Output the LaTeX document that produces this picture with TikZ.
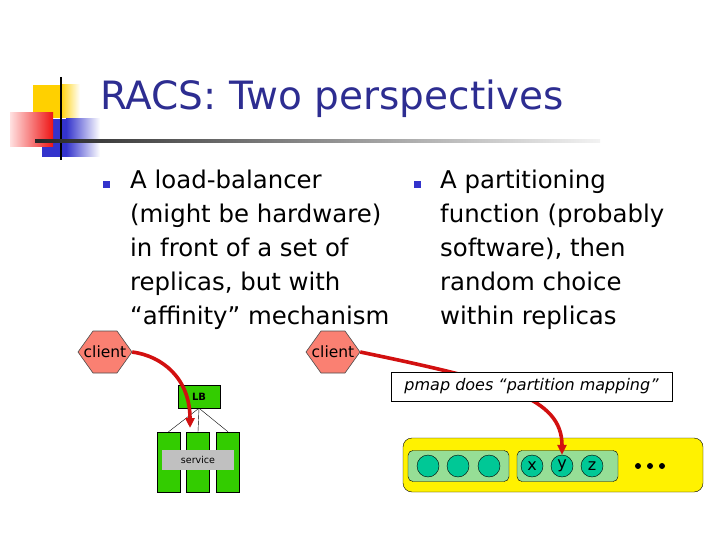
\documentclass[tikz,border=0pt]{standalone}
\usepackage{fontspec}
\setmainfont{DejaVu Sans}
\usepackage{xcolor}
\usepackage{tikz}
\usetikzlibrary{arrows.meta,positioning,calc}
\definecolor{titleblue}{RGB}{45,45,145}
\definecolor{bullblue}{RGB}{51,51,204}
\definecolor{logoyel}{RGB}{255,208,0}
\definecolor{logored}{RGB}{238,20,20}
\definecolor{salmon}{RGB}{250,128,114}
\definecolor{lbgreen}{RGB}{51,204,0}
\definecolor{arrred}{RGB}{210,16,16}
\definecolor{grpgreen}{RGB}{150,222,150}
\definecolor{teal}{RGB}{0,200,150}
\definecolor{svcgray}{RGB}{192,192,192}

\begin{document}
\begin{tikzpicture}[x=1pt,y=-1pt,
  body/.style={anchor=north west, align=left, inner sep=0pt, font=\fontsize{24.4}{34}\selectfont},
  hexa/.style={fill=salmon, draw=black!70, line width=0.6pt},
  clienttext/.style={minimum width=54pt, minimum height=42pt, inner sep=0pt, font=\fontsize{15.5}{16}\selectfont},
  lbbox/.style={fill=lbgreen, draw=black, minimum width=42pt, minimum height=23pt, inner sep=0pt, font=\fontsize{10}{10}\selectfont\bfseries},
  bar/.style={fill=lbgreen, draw=black, minimum width=23pt, minimum height=60pt, inner sep=0pt},
  svc/.style={fill=svcgray, minimum width=72pt, minimum height=20pt, inner sep=0pt, font=\fontsize{9.5}{10}\selectfont},
  redarrow/.style={arrred, line width=3.6pt, -{Triangle[length=10pt,width=9pt]}},
  pmapbox/.style={fill=white, draw=black, minimum width=281pt, minimum height=29pt, inner sep=0pt, font=\fontsize{16}{16}\selectfont\itshape},
  store/.style={fill=yellow, draw=black, rounded corners=9pt, minimum width=300pt, minimum height=54pt},
  group/.style={fill=grpgreen, draw=black, rounded corners=5pt, minimum width=101pt, minimum height=31pt},
  replica/.style={circle, fill=teal, draw=black, minimum size=22pt, inner sep=0pt, font=\fontsize{16}{16}\selectfont}]
  \useasboundingbox (0,0) rectangle (720,540);
  % logo
  \fill[logoyel] (33,85) rectangle (60,118);
  \shade[left color=logoyel, right color=white] (60,85) rectangle (80,118);
  \fill[bullblue] (42,119) rectangle (66,157);
  \shade[left color=bullblue, right color=white] (66,119) rectangle (100,157);
  \shade[left color=red!12, right color=logored] (10,113) rectangle (53,147);
  \draw[line width=2pt] (61,77) -- (61,160);
  \shade[left color=black!85, right color=black!5] (35,139.5) rectangle (600,142.5);
  % title
  \node[anchor=base west, inner sep=0pt, text=titleblue, font=\fontsize{39}{39}\selectfont] (title) at (100,110) {RACS: Two perspectives};
  % bullets
  \fill[bullblue] (103,181) rectangle (110,188);
  \fill[bullblue] (414,181) rectangle (421,188);
  \node[body] (left) at (130,170) {A load-balancer\\(might be hardware)\\in front of a set of\\replicas, but with\\“affinity” mechanism};
  \node[body] (right) at (440,170) {A partitioning\\function (probably\\software), then\\random choice\\within replicas};
  % clients
  \foreach \n/\cx in {c1/105,c2/333} {
    \filldraw[hexa] (\cx-27,352) -- (\cx-12,331) -- (\cx+12,331) -- (\cx+27,352) -- (\cx+12,373) -- (\cx-12,373) -- cycle;
    \node[clienttext] (\n) at (\cx,352) {client};
  }
  % load balancer + replicas
  \node[lbbox] (lb) at (199,396.5) {LB};
  \foreach \i/\bx in {1/168.5,2/198,3/228}
    \node[bar] (bar\i) at (\bx,462) {};
  \foreach \i in {1,2,3}
    \draw[thin] (lb.south) -- (bar\i.north);
  \node[svc] (svc) at (198,460) {service};
  \coordinate (lbin) at (190,428);
  \draw[redarrow] (c1.east) .. controls (162,356) and (190,378) .. (lbin);
  % partitioned store
  \node[store] (st) at (553,465) {};
  \node[group] (g1) at (458.5,466) {};
  \node[group] (g2) at (567.5,466) {};
  \foreach \i/\cx in {1/428,2/458,3/489}
    \node[replica] (r\i) at (\cx,466) {};
  \foreach \l/\cx in {x/532,y/562,z/592}
    \node[replica] (p\l) at (\cx,466) {\l};
  \foreach \dx in {638,650,662}
    \fill (\dx,466) circle (3);
  \draw[redarrow] (c2.east) .. controls (505,382) and (562,398) .. (py.north);
  \node[pmapbox] (pmap) at (531.5,386.5) {pmap does “partition mapping”};
\end{tikzpicture}
\end{document}
